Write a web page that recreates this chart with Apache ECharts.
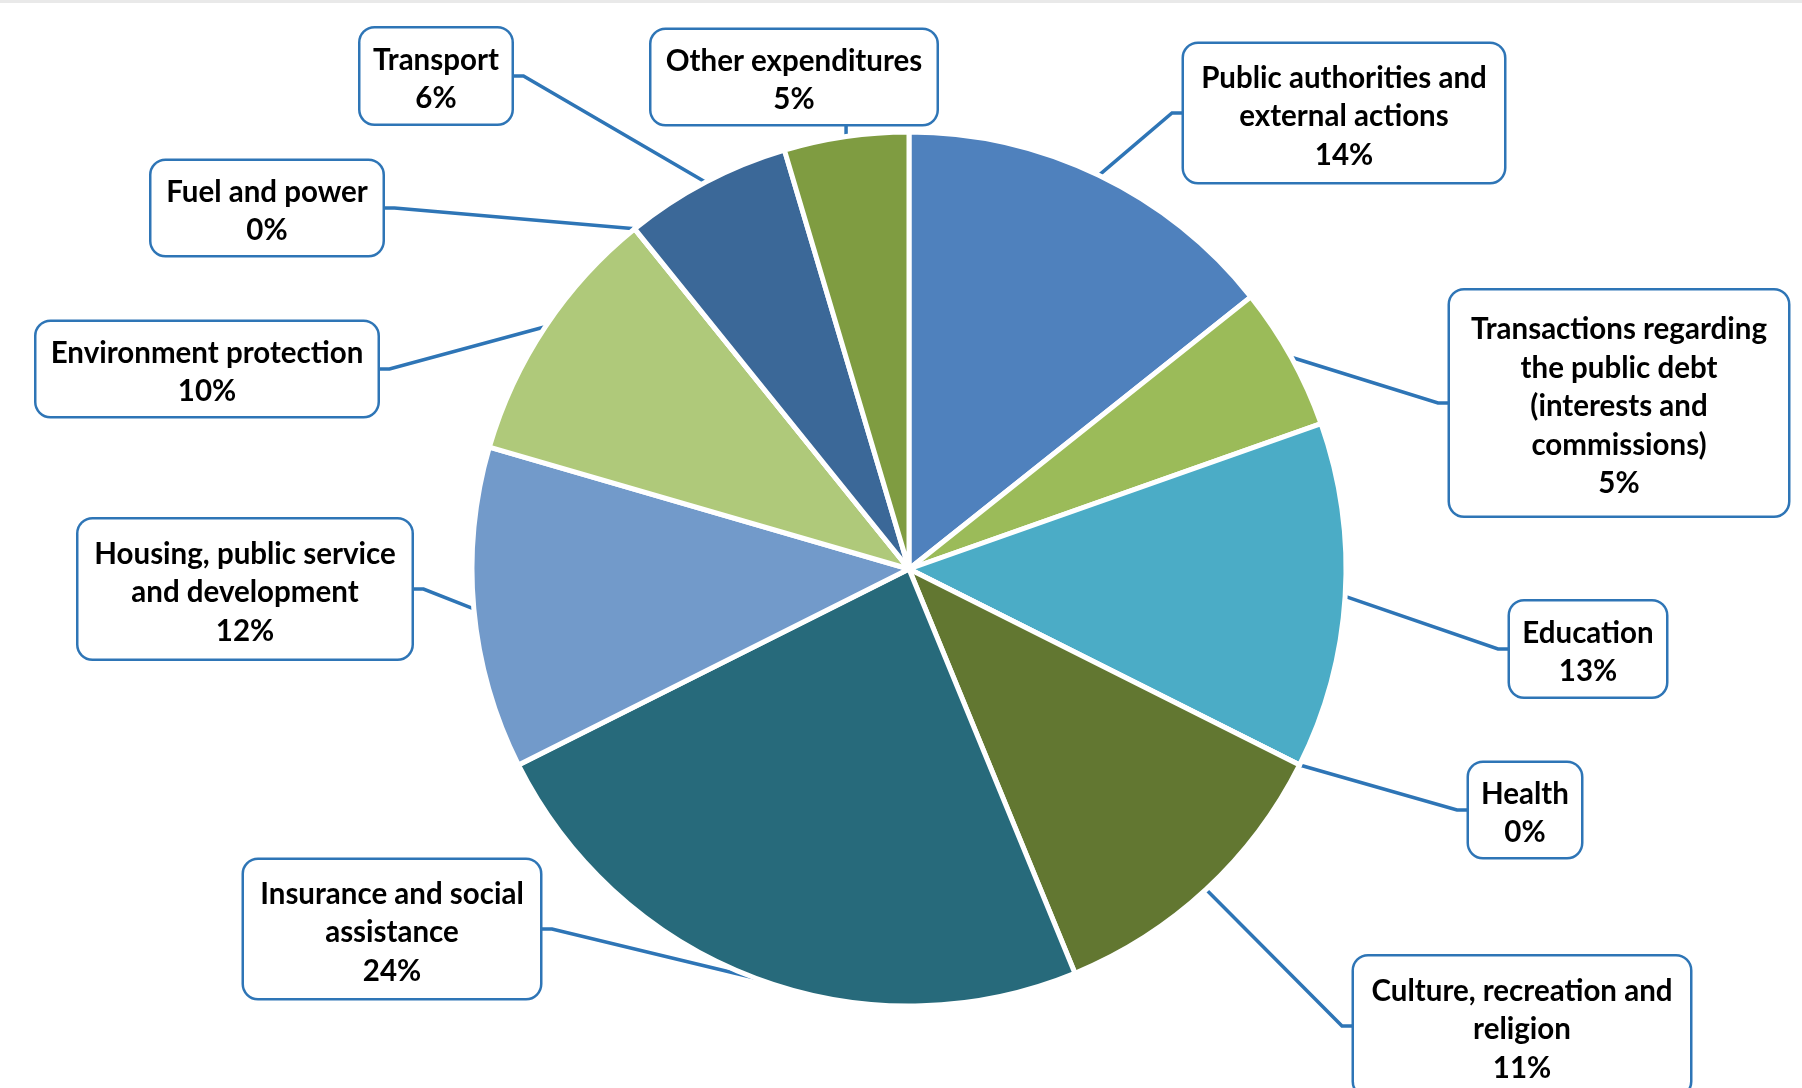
<!DOCTYPE html>
<html>
<head>
<meta charset="utf-8">
<script src="https://cdn.jsdelivr.net/npm/echarts@6/dist/echarts.min.js"></script>
<style>
  html, body { margin: 0; padding: 0; background: #ffffff; }
  #chart { width: 1802px; height: 1088px; }
</style>
</head>
<body>
<div id="chart"></div>
<script>
// Budget expenditure by function, share of total (%)
const categories = [
  'Public authorities and external actions',
  'Transactions regarding the public debt (interests and commissions)',
  'Education',
  'Health',
  'Culture, recreation and religion',
  'Insurance and social assistance',
  'Housing, public service and development',
  'Environment protection',
  'Fuel and power',
  'Transport',
  'Other expenditures'
];
const shares = [14.3, 5.3, 12.8, 0, 11.4, 23.8, 11.9, 9.7, 0, 6.2, 4.6];

// Category names as they are wrapped inside the callouts
const labelText = [
  'Public authorities and\nexternal actions',
  'Transactions regarding\nthe public debt\n(interests and\ncommissions)',
  'Education',
  'Health',
  'Culture, recreation and\nreligion',
  'Insurance and social\nassistance',
  'Housing, public service\nand development',
  'Environment protection',
  'Fuel and power',
  'Transport',
  'Other expenditures'
];

const sliceColors = [
  '#4f81bd', '#9bbb59', '#4bacc6', '#c0504d', '#627731', '#276a7b',
  '#729aca', '#afc97a', '#8064a2', '#3b6898', '#7f9c41'
];

// Pie geometry
const CENTER = [909, 569];
const RADIUS = 437;
const LINE_H = 38.5;
const TEXT_SHIFT = 3.5;
const LEAD = '#2e75b6';

// Callout boxes: centre x, centre y, width, height, edge where the leader line enters
const boxes = [
  [1344, 113, 320, 138, 'L'],
  [1619, 403, 338, 225, 'L'],
  [1588, 649, 156, 95, 'L'],
  [1525, 810, 112, 94, 'L'],
  [1522, 1026, 336, 139, 'L'],
  [392, 929, 296, 138, 'R'],
  [245, 589, 333, 139, 'R'],
  [207, 369, 341, 94, 'R'],
  [267, 208, 231, 94, 'R'],
  [436, 76, 151, 95, 'R'],
  [794, 77, 285, 94, 'B']
];

function arcPoint(i) {
  const total = shares.reduce((a, b) => a + b, 0);
  let before = 0;
  for (let k = 0; k < i; k++) before += shares[k];
  const a = (before + shares[i] / 2) / total * Math.PI * 2;
  return [CENTER[0] + RADIUS * Math.sin(a), CENTER[1] - RADIUS * Math.cos(a)];
}

const data = categories.map((name, i) => {
  const lines = labelText[i].split('\n').length + 1;
  const pv = Math.max(0, (boxes[i][3] - lines * LINE_H) / 2);
  return {
    name: name,
    value: shares[i],
    itemStyle: { color: sliceColors[i] },
    label: { padding: [pv + TEXT_SHIFT, 0, pv - TEXT_SHIFT, 0] }
  };
});

const chart = echarts.init(document.getElementById('chart'), null, { renderer: 'canvas' });

chart.setOption({
  animation: false,
  backgroundColor: '#ffffff',
  graphic: [{
    type: 'rect',
    left: 0, top: 0,
    shape: { width: 1802, height: 3 },
    style: { fill: '#e9e9e9' },
    silent: true
  }],
  series: [{
    type: 'pie',
    center: CENTER,
    radius: RADIUS,
    startAngle: 90,
    clockwise: true,
    avoidLabelOverlap: false,
    percentPrecision: 2,
    itemStyle: { borderColor: '#ffffff', borderWidth: 5 },
    label: {
      show: true,
      position: 'outer',
      alignTo: 'none',
      overflow: 'none',
      formatter: p => labelText[p.dataIndex] + '\n' + Math.round(p.percent) + '%',
      fontFamily: 'Lato',
      fontWeight: 'bold',
      fontSize: 29.5,
      lineHeight: LINE_H,
      color: '#000000',
      align: 'center',
      backgroundColor: '#ffffff',
      borderColor: LEAD,
      borderWidth: 2.5,
      borderRadius: 14
    },
    labelLine: {
      show: true,
      length: 10,
      length2: 10,
      smooth: false,
      lineStyle: { color: LEAD, width: 3.5 }
    },
    labelLayout: function (params) {
      const i = params.dataIndex;
      const [cx, cy, w, h, side] = boxes[i];
      let start = params.labelLinePoints && params.labelLinePoints[0];
      if (!start) start = arcPoint(i);
      let pts;
      if (side === 'L') {
        const ex = cx - w / 2;
        pts = [start, [ex - 12, cy], [ex, cy]];
      } else if (side === 'R') {
        const ex = cx + w / 2;
        pts = [start, [ex + 12, cy], [ex, cy]];
      } else {
        const ey = cy + h / 2;
        pts = [start, [start[0], ey], [start[0], ey]];
      }
      return {
        x: cx,
        y: cy - h / 2,
        align: 'center',
        verticalAlign: 'top',
        width: w,
        labelLinePoints: pts
      };
    },
    emphasis: { disabled: true },
    data: data
  }]
});
</script>
</body>
</html>
